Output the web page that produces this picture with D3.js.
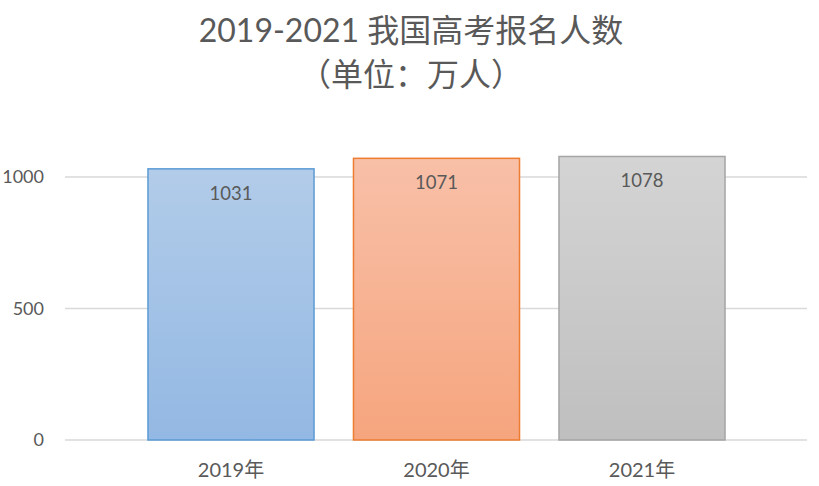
<!DOCTYPE html>
<html><head><meta charset="utf-8">
<script src="https://cdn.jsdelivr.net/npm/d3@7"></script>
<style>
body{margin:0;background:#fff;}
text{font-family:"Lato","Noto Sans CJK SC",sans-serif;fill:#595959;}
</style></head>
<body>
<svg id="c" width="819" height="486"></svg>
<script>
const categories = ["2019年","2020年","2021年"];
const values = [1031, 1071, 1078];
const yTicks = [0, 500, 1000];
const titleLines = ["2019-2021 我国高考报名人数", "（单位：万人）"];
const fills = [["#b2cce9","#93b8e3"],["#f8c0a8","#f6a57e"],["#d4d4d4","#bfbfbf"]];
const strokes = ["#5b9bd5","#ed7d31","#a5a5a5"];

const svg = d3.select("#c");
const y = d3.scaleLinear().domain([0, 1000]).range([440, 177]);
const x = d3.scaleBand().domain(categories).range([128.25, 744.75]).paddingInner(0.192).paddingOuter(0.096);

const defs = svg.append("defs");
fills.forEach((f,i)=>{
  const g = defs.append("linearGradient").attr("id","g"+i).attr("x1",0).attr("y1",0).attr("x2",0).attr("y2",1);
  g.append("stop").attr("offset","0%").attr("stop-color",f[0]);
  g.append("stop").attr("offset","100%").attr("stop-color",f[1]);
});

// title
svg.selectAll("text.title").data(titleLines).enter().append("text")
  .attr("class","title").attr("x",411).attr("y",(d,i)=>i===0?42:86)
  .attr("text-anchor","middle").style("font-size","32px").text(d=>d);

// gridlines
svg.append("g").selectAll("line").data(yTicks).enter().append("line")
  .attr("x1",65).attr("x2",807).attr("y1",d=>y(d)).attr("y2",d=>y(d))
  .attr("stroke","#d9d9d9").attr("stroke-width",1.5);

// y labels
svg.append("g").selectAll("text").data(yTicks).enter().append("text")
  .attr("x",44).attr("y",d=>y(d)+6).attr("text-anchor","end")
  .style("font-size","18px").text(d=>d);

// bars
svg.append("g").selectAll("rect").data(values).enter().append("rect")
  .attr("x",(d,i)=>x(categories[i])).attr("width",x.bandwidth())
  .attr("y",d=>y(d)).attr("height",d=>y(0)-y(d))
  .attr("fill",(d,i)=>`url(#g${i})`).attr("stroke",(d,i)=>strokes[i]).attr("stroke-width",1.5);

// data labels
svg.append("g").selectAll("text").data(values).enter().append("text")
  .attr("x",(d,i)=>x(categories[i])+x.bandwidth()/2).attr("y",d=>y(d)+31)
  .attr("text-anchor","middle").style("font-size","18.5px").text(d=>d);

// category labels
svg.append("g").selectAll("text").data(categories).enter().append("text")
  .attr("x",d=>x(d)+x.bandwidth()/2).attr("y",477)
  .attr("text-anchor","middle").style("font-size","20px").text(d=>d);
</script>
</body></html>
